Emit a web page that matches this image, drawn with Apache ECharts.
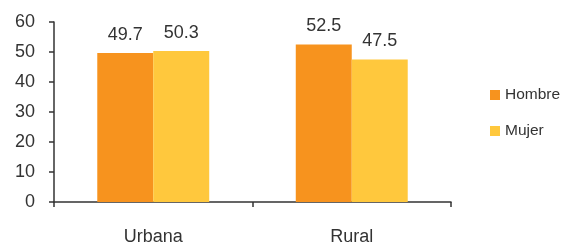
<!DOCTYPE html>
<html><head><meta charset="utf-8">
<script src="https://cdn.jsdelivr.net/npm/echarts@6/dist/echarts.min.js"></script>
<style>html,body{margin:0;padding:0;background:#fff}#c{width:561px;height:242px}</style>
</head><body><div id="c"></div>
<script>
const categories = ["Urbana", "Rural"];
const hombre = [49.7, 52.5];
const mujer = [50.3, 47.5];
const seriesNames = ["Hombre", "Mujer"];
const yTicks = [0, 60, 10];

const font = "Liberation Sans";
const chart = echarts.init(document.getElementById('c'), null, {renderer: 'canvas'});
chart.setOption({
  animation: false,
  textStyle: {fontFamily: font},
  grid: {left: 54, right: 110, top: 22, bottom: 40, containLabel: false, outerBoundsMode: 'none'},
  legend: {
    orient: 'vertical', left: 490, top: 87, padding: 0, itemWidth: 10, itemHeight: 10, itemGap: 20,
    icon: 'rect', textStyle: {fontSize: 15.5, color: '#333', fontFamily: font}, data: seriesNames
  },
  xAxis: {
    type: 'category', data: categories,
    axisLine: {lineStyle: {color: '#333', width: 1.5}},
    axisTick: {show: true, length: 5, lineStyle: {color: '#333', width: 1.5}},
    axisLabel: {fontSize: 18, color: '#333', margin: 26, fontFamily: font}
  },
  yAxis: {
    type: 'value', min: yTicks[0], max: yTicks[1], interval: yTicks[2],
    splitLine: {show: false},
    axisLine: {show: true, lineStyle: {color: '#333', width: 1.5}},
    axisTick: {show: true, length: 5, lineStyle: {color: '#333', width: 1.5}},
    axisLabel: {fontSize: 18, color: '#333', margin: 19, fontFamily: font}
  },
  series: [
    {name: seriesNames[0], type: 'bar', data: hombre, barGap: '0%', barCategoryGap: '43.6%',
     itemStyle: {color: '#f7931e'},
     label: {show: true, position: 'top', distance: 9, fontSize: 18, color: '#333', fontFamily: font}},
    {name: seriesNames[1], type: 'bar', data: mujer, barGap: '0%', barCategoryGap: '43.6%',
     itemStyle: {color: '#ffc83d'},
     label: {show: true, position: 'top', distance: 9, fontSize: 18, color: '#333', fontFamily: font}}
  ]
});
</script></body></html>
